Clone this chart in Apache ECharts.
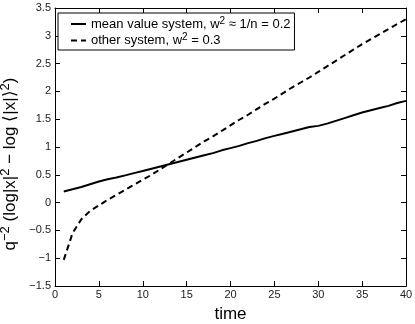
<!DOCTYPE html>
<html><head><meta charset="utf-8">
<script src="https://cdn.jsdelivr.net/npm/echarts@6/dist/echarts.min.js"></script>
<style>html,body{margin:0;padding:0;background:#fff}#c{width:415px;height:324px}</style>
</head><body><div id="c"></div>
<script>
var times = [1,2,3,4,5,6,7,8,9,10,11,12,13,14,15,16,17,18,19,20,21,22,23,24,25,26,27,28,29,30,31,32,33,34,35,36,37,38,39,40];
var meanValue = [0.20,0.24,0.28,0.33,0.38,0.42,0.45,0.49,0.53,0.57,0.61,0.65,0.69,0.73,0.77,0.81,0.85,0.89,0.94,0.98,1.02,1.07,1.11,1.16,1.20,1.24,1.28,1.32,1.36,1.38,1.42,1.47,1.52,1.57,1.62,1.66,1.70,1.74,1.79,1.83];
var otherSystem = [-1.03,-0.55,-0.30,-0.15,-0.05,0.05,0.14,0.23,0.32,0.41,0.50,0.60,0.70,0.80,0.90,1.00,1.10,1.19,1.29,1.39,1.49,1.58,1.68,1.78,1.87,1.97,2.07,2.16,2.25,2.35,2.45,2.55,2.65,2.75,2.85,2.94,3.03,3.12,3.21,3.30];
var seriesNames = ['mean value system', 'other system'];

var FONT = 'Liberation Sans, Arial, Helvetica, sans-serif';
function pairs(xs, ys){ return xs.map(function(x,i){ return [x, ys[i]]; }); }
function minus(v){ return String(v).replace('-', '\u2212'); }

var chart = echarts.init(document.getElementById('c'), null, {renderer:'canvas'});
var axisLine = {show:true, onZero:false, lineStyle:{color:'#000', width:1}};
var tick = {show:true, inside:true, length:5, lineStyle:{color:'#000'}};
chart.setOption({
  animation:false,
  backgroundColor:'#fff',
  grid:{left:55, right:9, top:8, bottom:38, containLabel:false, outerBoundsMode:'none'},
  legend:{
    left:58, top:13, orient:'vertical', itemWidth:15, itemHeight:12, itemGap:2,
    padding:[3,4,3,12],
    borderColor:'#000', borderWidth:1, backgroundColor:'#fff',
    data:seriesNames,
    itemStyle:{opacity:0},
    textStyle:{fontFamily:FONT, fontSize:13, color:'#000',
      rich:{t:{fontFamily:FONT, fontSize:13, color:'#000'}, s:{fontFamily:FONT, fontSize:10, color:'#000', verticalAlign:'top', padding:[0,0,6,0]}}},
    formatter:function(n){
      if(n===seriesNames[0]) return '{t|mean value system, w}{s|2}{t| \u2248 1/n = 0.2}';
      return '{t|other system, w}{s|2}{t| = 0.3}';
    }
  },
  xAxis:[{
    type:'value', min:0, max:40, interval:5, position:'bottom',
    name:'time', nameLocation:'middle', nameGap:20,
    nameTextStyle:{fontFamily:FONT, fontSize:17, color:'#000'},
    axisLine:axisLine, axisTick:tick, splitLine:{show:false},
    axisLabel:{fontFamily:FONT, fontSize:11, color:'#222', margin:3}
  },{
    type:'value', min:0, max:40, interval:5, position:'top',
    axisLine:axisLine, axisTick:tick, splitLine:{show:false}, axisLabel:{show:false}
  }],
  yAxis:[{
    type:'value', min:-1.5, max:3.5, interval:0.5, position:'left',
    name:'{t|q}{s|\u22122}{t| (log|x|}{s|2}{t| \u2212 log \u27E8|x|\u27E9}{s|2}{t|)}',
    nameLocation:'middle', nameGap:26, nameRotate:90,
    nameTextStyle:{fontFamily:FONT, fontSize:17, color:'#000', padding:[0,34,0,0],
      rich:{t:{fontFamily:FONT, fontSize:17, color:'#000'}, s:{fontFamily:FONT, fontSize:13, color:'#000', verticalAlign:'top', padding:[0,0,8,0]}}},
    axisLine:axisLine, axisTick:tick, splitLine:{show:false},
    axisLabel:{fontFamily:FONT, fontSize:11, color:'#222', margin:4, formatter:function(v){return minus(v);}}
  },{
    type:'value', min:-1.5, max:3.5, interval:0.5, position:'right',
    axisLine:axisLine, axisTick:tick, splitLine:{show:false}, axisLabel:{show:false}
  }],
  series:[{
    name:seriesNames[0], type:'line', data:pairs(times, meanValue), symbol:'none',
    lineStyle:{color:'#000', width:2, type:'solid'}, itemStyle:{color:'#000'}
  },{
    name:seriesNames[1], type:'line', data:pairs(times, otherSystem), symbol:'none',
    lineStyle:{color:'#000', width:2, type:[6,4]}, itemStyle:{color:'#000'}
  }]
});
</script></body></html>
